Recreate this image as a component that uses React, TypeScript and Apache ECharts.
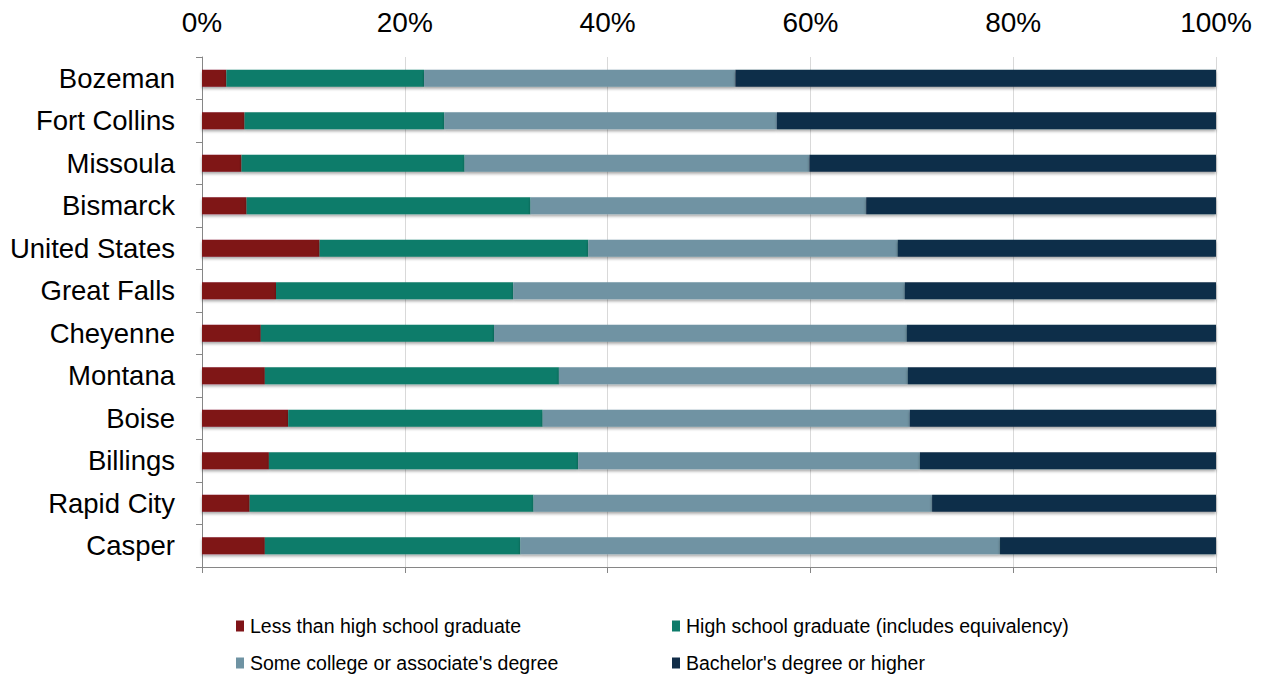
import React, { useEffect, useRef } from "react";
import * as echarts from "echarts";

const cities = [
  "Bozeman",
  "Fort Collins",
  "Missoula",
  "Bismarck",
  "United States",
  "Great Falls",
  "Cheyenne",
  "Montana",
  "Boise",
  "Billings",
  "Rapid City",
  "Casper",
];

const lessThanHS = [2.4, 4.2, 3.9, 4.4, 11.6, 7.3, 5.8, 6.2, 8.5, 6.6, 4.7, 6.2];
const hsGraduate = [19.5, 19.7, 22.0, 28.0, 26.5, 23.4, 23.0, 29.0, 25.1, 30.5, 28.0, 25.2];
const someCollege = [30.7, 32.8, 34.0, 33.1, 30.5, 38.6, 40.7, 34.4, 36.2, 33.7, 39.3, 47.3];
const bachelors = [47.4, 43.3, 40.1, 34.5, 31.4, 30.7, 30.5, 30.4, 30.2, 29.2, 28.0, 21.3];

const seriesNames = [
  "Less than high school graduate",
  "High school graduate (includes equivalency)",
  "Some college or associate's degree",
  "Bachelor's degree or higher",
];
const seriesData = [lessThanHS, hsGraduate, someCollege, bachelors];
const colors = ["#7F1418", "#0D7B6A", "#6F93A3", "#112D48"];

const FONT = "'Liberation Sans', Arial, sans-serif";

export default function App() {
  const ref = useRef<HTMLDivElement>(null);
  useEffect(() => {
    if (!ref.current) return;
    const chart = echarts.init(ref.current, null, { renderer: "svg" });
    const legendPos = [
      { left: 236, top: 616 },
      { left: 672, top: 616 },
      { left: 236, top: 653 },
      { left: 672, top: 653 },
    ];
    chart.setOption({
      animation: false,
      backgroundColor: "#ffffff",
      textStyle: { fontFamily: FONT },
      grid: { left: 202, right: 54, top: 57, bottom: 112, containLabel: false },
      legend: seriesNames.map((n, i) => ({
        data: [n],
        left: legendPos[i].left,
        top: legendPos[i].top,
        padding: 0,
        itemWidth: 8,
        itemHeight: 11,
        itemGap: 0,
        icon: "rect",
        textStyle: { fontSize: 19.5, color: "#000", fontFamily: FONT, padding: [0, 0, 0, 1] },
        selectedMode: false,
      })),
      xAxis: [
        {
          type: "value",
          position: "top",
          min: 0,
          max: 100,
          interval: 20,
          axisLabel: {
            formatter: "{value}%",
            fontSize: 28,
            color: "#000",
            margin: 21,
            fontFamily: FONT,
          },
          axisLine: { show: false },
          axisTick: { show: false },
          splitLine: { show: true, lineStyle: { color: "#d9d9d9", width: 1 } },
        },
        {
          type: "value",
          position: "bottom",
          min: 0,
          max: 100,
          interval: 20,
          axisLabel: { show: false },
          axisLine: { show: true, lineStyle: { color: "#868686", width: 1 } },
          axisTick: { show: true, length: 6, lineStyle: { color: "#868686" } },
          splitLine: { show: false },
        },
      ],
      yAxis: {
        type: "category",
        data: cities,
        inverse: true,
        axisLine: { show: true, lineStyle: { color: "#868686", width: 1 } },
        axisTick: { show: true, length: 6, lineStyle: { color: "#868686" } },
        axisLabel: { fontSize: 27.5, color: "#000", margin: 27, fontFamily: FONT },
        splitLine: { show: false },
      },
      series: seriesNames.map((n, i) => ({
        name: n,
        type: "bar",
        stack: "total",
        xAxisIndex: 0,
        barWidth: 17,
        data: seriesData[i],
        itemStyle: {
          color: colors[i],
          shadowColor: "rgba(0,0,0,0.35)",
          shadowBlur: 3,
          shadowOffsetY: 2,
        },
      })),
    });
    return () => chart.dispose();
  }, []);
  return (
    <div
      ref={ref}
      style={{ position: "fixed", left: 0, top: 0, width: 1270, height: 679 }}
    />
  );
}
